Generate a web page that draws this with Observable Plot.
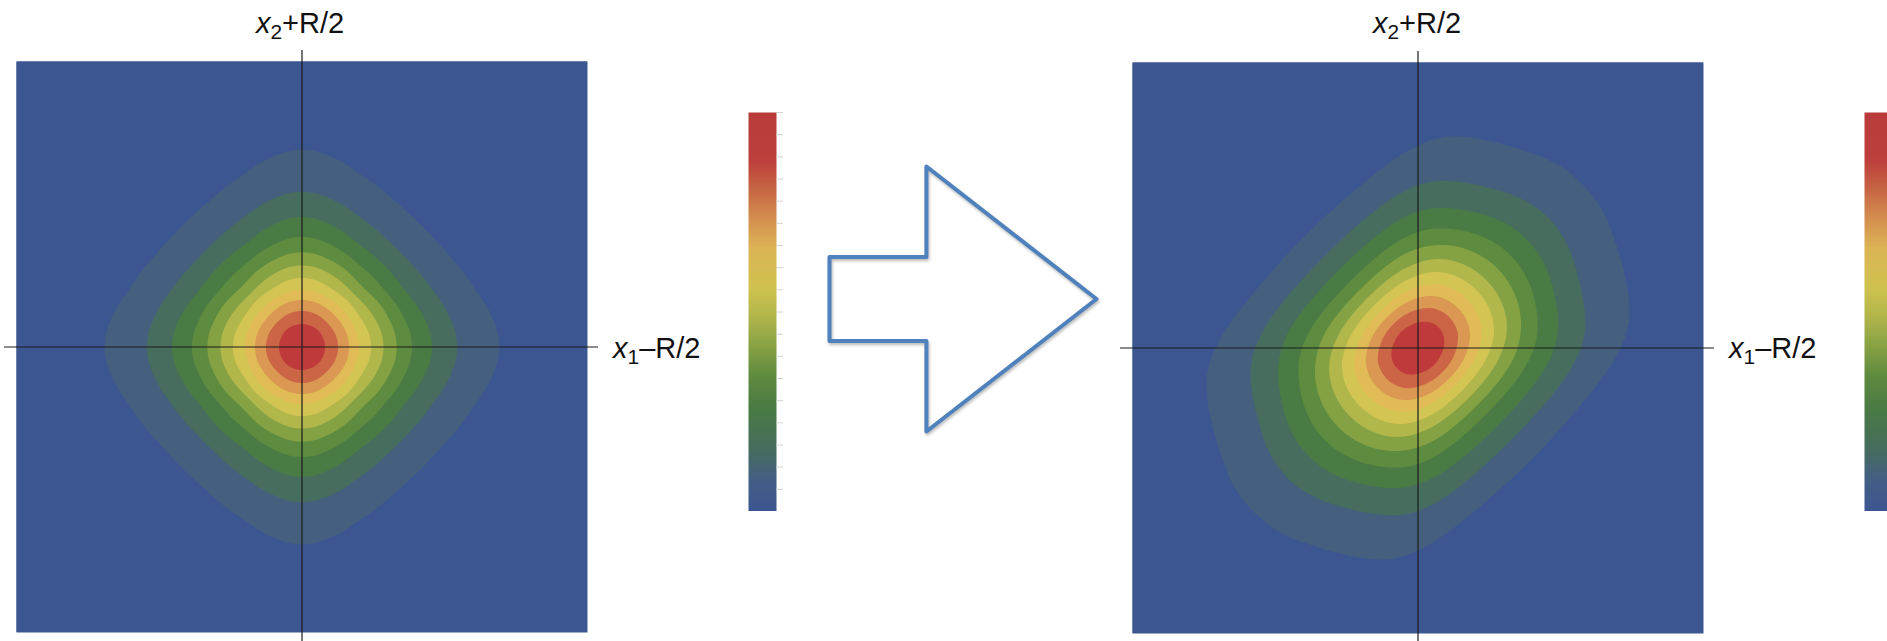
<!DOCTYPE html>
<html>
<head>
<meta charset="utf-8">
<script src="https://cdn.jsdelivr.net/npm/d3@7"></script>
<script src="https://cdn.jsdelivr.net/npm/@observablehq/plot@0.6"></script>
<style>
  html, body { margin: 0; padding: 0; background: #ffffff; }
  body { width: 1887px; height: 641px; position: relative; overflow: hidden;
         font-family: "Liberation Sans", Arial, Helvetica, sans-serif; }
  .abs { position: absolute; overflow: visible; }
  .abs svg { max-width: none !important; display: block; }
  .lbl { position: absolute; font-size: 29px; line-height: 29px; color: #111; white-space: nowrap; }
  .lbl i { font-style: italic; }
  .lbl sub { font-size: 0.72em; vertical-align: -6px; line-height: 0; }
  .center { transform: translateX(-50%); }
  #arrow { filter: drop-shadow(1px 2px 1.5px rgba(0,0,0,0.28)); }
</style>
</head>
<body>
<script>
// ---------------- data ----------------
// contour levels (12 equally spaced bands, level 12 = peak)
const levels = [0, 1, 2, 3, 4, 5, 6, 7, 8, 9, 10, 11];
const bandColors = ["#3c5691", "#45607e", "#466d5e", "#4a7b45", "#5d8b3f", "#84a143",
                    "#b1b74b", "#d3c553", "#e1bb56", "#da9853", "#cc6446", "#bf3b3b"];

// left panel: relative amplitude along each axis, one value per grid step (14.3 px) from the centre
const gLeft = [1.000, 0.973, 0.892, 0.793, 0.666, 0.573, 0.475, 0.387, 0.314, 0.257, 0.203,
               0.162, 0.128, 0.101, 0.080, 0.063, 0.050, 0.039, 0.031, 0.024, 0.019];

// right panel: single-coordinate profile and correlation profile along x1 - x2
const gRight = [1.000, 0.984, 0.929, 0.853, 0.771, 0.690, 0.614, 0.542, 0.475, 0.416, 0.360,
                0.310, 0.268, 0.231, 0.199, 0.172, 0.149, 0.128, 0.111, 0.095, 0.083];
const hRight = [1.000, 0.995, 0.980, 0.947, 0.912, 0.862, 0.808, 0.764, 0.720, 0.671, 0.628,
                0.590, 0.541, 0.498, 0.440, 0.379, 0.345, 0.318, 0.290, 0.265, 0.244,
                0.224, 0.205, 0.188, 0.173, 0.158, 0.145, 0.133, 0.122, 0.112, 0.103,
                0.094, 0.086, 0.079, 0.073, 0.066, 0.061, 0.055, 0.051, 0.047, 0.043];

// colour bar (value from bottom 0 to top 1)
const colorbarStops  = [0, 0.08, 0.145, 0.255, 0.34, 0.415, 0.49, 0.56, 0.66, 0.73, 0.80, 0.88, 1];
const colorbarColors = ["#3c5592", "#425f85", "#456b62", "#4a7a44", "#5f8b3f", "#88a244", "#b2b64a",
                        "#cfc24f", "#dcb455", "#d4914f", "#c86a45", "#bd3f3c", "#b93b3b"];
const colorbarTicks  = [0, 1, 2, 3, 4, 5, 6, 7, 8, 9, 10, 11, 12, 13, 14, 15, 16, 17, 18];

// text
const verticalAxisLabel   = ["x", "2", "+R/2"];
const horizontalAxisLabel = ["x", "1", "\u2013R/2"];

// block arrow outline (relative units)
const arrowOutline = [[0, -0.317], [0.363, -0.317], [0.363, -1], [1, 0], [0.363, 1],
                      [0.363, 0.317], [0, 0.317], [0, -0.317]];

// ---------------- build sample tables ----------------
const N = 20;              // grid half size (steps)
function samples(g, h) {
  const out = [];
  for (let j = -N; j <= N; j++) {
    for (let i = -N; i <= N; i++) {
      out.push({ x: i, y: j,
                 value: 12 * g[Math.abs(i)] * g[Math.abs(j)] * (h ? h[Math.abs(i - j)] : 1) });
    }
  }
  return out;
}
const leftSamples = samples(gLeft, null);
const rightSamples = samples(gRight, hRight);

// ---------------- helpers ----------------
function place(node, left, top, id) {
  const d = document.createElement("div");
  d.className = "abs";
  d.style.left = left + "px";
  d.style.top = top + "px";
  d.style.width = node.getAttribute("width") + "px";
  d.style.height = node.getAttribute("height") + "px";
  if (id) d.id = id;
  d.appendChild(node);
  document.body.appendChild(d);
}
function label(parts, left, top, centered) {
  const d = document.createElement("div");
  d.className = "lbl" + (centered ? " center" : "");
  d.style.left = left + "px";
  d.style.top = top + "px";
  const i = document.createElement("i"); i.textContent = parts[0];
  const s = document.createElement("sub"); s.textContent = parts[1];
  d.appendChild(i); d.appendChild(s);
  d.appendChild(document.createTextNode(parts[2]));
  document.body.appendChild(d);
}

function panel(data) {
  return Plot.plot({
    width: 595, height: 591,
    marginLeft: 12, marginRight: 12, marginTop: 11, marginBottom: 9,
    x: { domain: [-N, N], axis: null },
    y: { domain: [-N, N], axis: null },
    color: { type: "threshold", domain: levels.slice(1), range: bandColors },
    marks: [
      Plot.frame({ fill: bandColors[0] }),
      Plot.contour(data, {
        x: "x", y: "y", fill: "value", thresholds: levels,
        interpolate: "barycentric", pixelSize: 1, blur: 4, clip: true
      }),
      Plot.ruleX([0], { y1: -N - 1.2, y2: N + 0.77, stroke: "#1a1a1a", strokeWidth: 1.2 }),
      Plot.ruleY([0], { x1: -N - 0.84, x2: N + 0.77, stroke: "#1a1a1a", strokeWidth: 1.2 })
    ]
  });
}

function colorbar() {
  return Plot.plot({
    width: 40, height: 399,
    marginLeft: 0, marginRight: 12, marginTop: 0, marginBottom: 0,
    x: { domain: [0, 1], axis: null },
    y: { domain: [0, 18], axis: null },
    color: { type: "linear", domain: colorbarStops.map(d => d * 18), range: colorbarColors },
    marks: [
      Plot.raster({ x1: 0, x2: 1, y1: 0, y2: 18, width: 1, height: 360, fill: (x, y) => y }),
      Plot.ruleY(colorbarTicks, { x1: 1, x2: 1.25, stroke: "#d2d2d2", strokeWidth: 1 })
    ]
  });
}

function arrow() {
  return Plot.plot({
    width: 277, height: 275, margin: 5,
    x: { domain: [0, 1], axis: null },
    y: { domain: [-1, 1], axis: null },
    marks: [
      Plot.line(arrowOutline, { x: d => d[0], y: d => d[1], stroke: "#4f81bd",
                                strokeWidth: 4, strokeLinejoin: "round" })
    ]
  });
}

// ---------------- layout ----------------
place(panel(leftSamples), 4, 50);
place(colorbar(), 748, 112);
place(arrow(), 824, 161, "arrow");
place(panel(rightSamples), 1120, 51);
place(colorbar(), 1864, 112);

label(verticalAxisLabel, 300, 8.5, true);
label(horizontalAxisLabel, 613, 333.5, false);
label(verticalAxisLabel, 1417, 8.5, true);
label(horizontalAxisLabel, 1729, 333.5, false);
</script>
</body>
</html>
